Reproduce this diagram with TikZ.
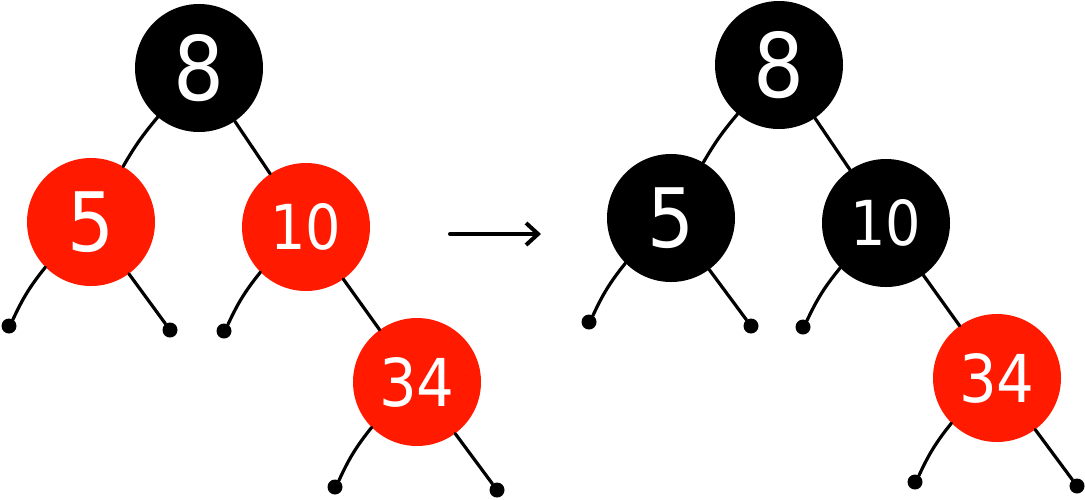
\documentclass[tikz,border=0pt]{standalone}
\usepackage{fontspec}
\usepackage{tikz}
\usetikzlibrary{arrows.meta}
\newfontfamily\digitfont{DejaVu Sans Condensed}
\definecolor{rbred}{HTML}{FF1A00}
\definecolor{rbblack}{HTML}{000000}

\tikzset{
  rbnode/.style={circle,minimum size=128pt,inner sep=0pt,text=white,font=\digitfont\fontsize{#1}{#1}\selectfont},
  rednode/.style={rbnode=#1,fill=rbred},
  blacknode/.style={rbnode=#1,fill=rbblack},
  nilleaf/.style={circle,fill=black,minimum size=15pt,inner sep=0pt},
  branch/.style={line width=3.2pt,line cap=round}
}

\begin{document}
\begin{tikzpicture}[x=1pt,y=-1pt]
  \useasboundingbox (0,0) rectangle (1085,499);
  % tree before recolouring
  \node[blacknode=89] (a8) at (199,68) {8};
  \node[rednode=82] (a5) at (91,222) {5};
  \node[rednode=62] (a10) at (306,227) {10};
  \node[rednode=66] (a34) at (417,382) {34};
  \node[nilleaf] (a5l) at (9,326) {};
  \node[nilleaf] (a5r) at (170,330) {};
  \node[nilleaf] (a10l) at (224,331) {};
  \node[nilleaf] (a34l) at (335,487) {};
  \node[nilleaf] (a34r) at (497,490) {};
  \draw[branch] (a8) to[bend right=5] (a5);
  \draw[branch] (a8) -- (a10);
  \draw[branch] (a5) to[bend right=7] (a5l);
  \draw[branch] (a5) -- (a5r);
  \draw[branch] (a10) to[bend right=7] (a10l);
  \draw[branch] (a10) -- (a34);
  \draw[branch] (a34) to[bend right=7] (a34l);
  \draw[branch] (a34) -- (a34r);
  % arrow
  \coordinate (from) at (450,234);
  \coordinate (to) at (541,234);
  \draw[line width=4pt,line cap=round,-{Straight Barb[length=12pt,width=22pt]}] (from) -- (to);
  % tree after recolouring
  \node[blacknode=89] (b8) at (779,65) {8};
  \node[blacknode=82] (b5) at (671,218) {5};
  \node[blacknode=62] (b10) at (886,223) {10};
  \node[rednode=66] (b34) at (997,378) {34};
  \node[nilleaf] (b5l) at (589,322) {};
  \node[nilleaf] (b5r) at (751,326) {};
  \node[nilleaf] (b10l) at (803,327) {};
  \node[nilleaf] (b34l) at (915,482) {};
  \node[nilleaf] (b34r) at (1077,486) {};
  \draw[branch] (b8) to[bend right=5] (b5);
  \draw[branch] (b8) -- (b10);
  \draw[branch] (b5) to[bend right=7] (b5l);
  \draw[branch] (b5) -- (b5r);
  \draw[branch] (b10) to[bend right=7] (b10l);
  \draw[branch] (b10) -- (b34);
  \draw[branch] (b34) to[bend right=7] (b34l);
  \draw[branch] (b34) -- (b34r);
\end{tikzpicture}
\end{document}
